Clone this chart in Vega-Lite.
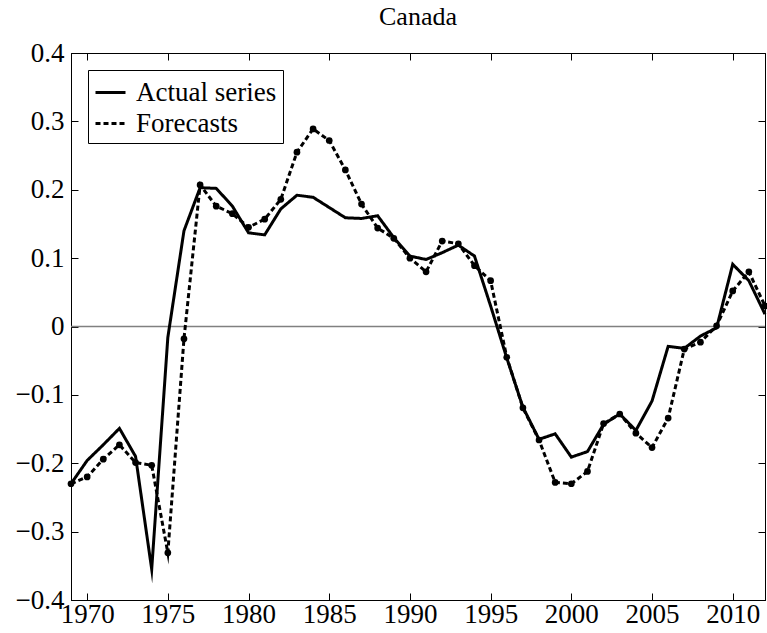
{
  "$schema": "https://vega.github.io/schema/vega-lite/v6.json",
  "width": 694,
  "height": 547,
  "autosize": "none",
  "padding": {"left": 71, "top": 53, "right": 2, "bottom": 33},
  "background": "white",
  "title": {"text": "Canada", "font": "Liberation Serif", "fontSize": 26, "fontWeight": "normal", "color": "black", "offset": 9},
  "config": {
    "view": {"stroke": "black", "strokeWidth": 1},
    "axis": {"grid": false, "domainColor": "black", "tickColor": "black", "labelColor": "black", "labelFont": "Liberation Serif", "labelFontSize": 27, "tickSize": -7, "title": null}
  },
  "datasets": {
    "main": [
      {"year": 1969, "series": "Actual series", "value": -0.23},
      {"year": 1970, "series": "Actual series", "value": -0.196},
      {"year": 1971, "series": "Actual series", "value": -0.173},
      {"year": 1972, "series": "Actual series", "value": -0.149},
      {"year": 1973, "series": "Actual series", "value": -0.19},
      {"year": 1974, "series": "Actual series", "value": -0.355},
      {"year": 1975, "series": "Actual series", "value": -0.016},
      {"year": 1976, "series": "Actual series", "value": 0.14},
      {"year": 1977, "series": "Actual series", "value": 0.203},
      {"year": 1978, "series": "Actual series", "value": 0.202},
      {"year": 1979, "series": "Actual series", "value": 0.176},
      {"year": 1980, "series": "Actual series", "value": 0.137},
      {"year": 1981, "series": "Actual series", "value": 0.134},
      {"year": 1982, "series": "Actual series", "value": 0.172},
      {"year": 1983, "series": "Actual series", "value": 0.192},
      {"year": 1984, "series": "Actual series", "value": 0.189},
      {"year": 1985, "series": "Actual series", "value": 0.174},
      {"year": 1986, "series": "Actual series", "value": 0.159},
      {"year": 1987, "series": "Actual series", "value": 0.158},
      {"year": 1988, "series": "Actual series", "value": 0.162},
      {"year": 1989, "series": "Actual series", "value": 0.13},
      {"year": 1990, "series": "Actual series", "value": 0.103},
      {"year": 1991, "series": "Actual series", "value": 0.098},
      {"year": 1992, "series": "Actual series", "value": 0.108},
      {"year": 1993, "series": "Actual series", "value": 0.119},
      {"year": 1994, "series": "Actual series", "value": 0.103},
      {"year": 1995, "series": "Actual series", "value": 0.03},
      {"year": 1996, "series": "Actual series", "value": -0.046},
      {"year": 1997, "series": "Actual series", "value": -0.118},
      {"year": 1998, "series": "Actual series", "value": -0.165},
      {"year": 1999, "series": "Actual series", "value": -0.157},
      {"year": 2000, "series": "Actual series", "value": -0.191},
      {"year": 2001, "series": "Actual series", "value": -0.183},
      {"year": 2002, "series": "Actual series", "value": -0.143},
      {"year": 2003, "series": "Actual series", "value": -0.128},
      {"year": 2004, "series": "Actual series", "value": -0.152},
      {"year": 2005, "series": "Actual series", "value": -0.109},
      {"year": 2006, "series": "Actual series", "value": -0.029},
      {"year": 2007, "series": "Actual series", "value": -0.032},
      {"year": 2008, "series": "Actual series", "value": -0.014},
      {"year": 2009, "series": "Actual series", "value": -0.002},
      {"year": 2010, "series": "Actual series", "value": 0.091},
      {"year": 2011, "series": "Actual series", "value": 0.067},
      {"year": 2012, "series": "Actual series", "value": 0.018},
      {"year": 1969, "series": "Forecasts", "value": -0.23},
      {"year": 1970, "series": "Forecasts", "value": -0.22},
      {"year": 1971, "series": "Forecasts", "value": -0.194},
      {"year": 1972, "series": "Forecasts", "value": -0.173},
      {"year": 1973, "series": "Forecasts", "value": -0.199},
      {"year": 1974, "series": "Forecasts", "value": -0.203},
      {"year": 1975, "series": "Forecasts", "value": -0.331},
      {"year": 1976, "series": "Forecasts", "value": -0.018},
      {"year": 1977, "series": "Forecasts", "value": 0.207},
      {"year": 1978, "series": "Forecasts", "value": 0.176},
      {"year": 1979, "series": "Forecasts", "value": 0.165},
      {"year": 1980, "series": "Forecasts", "value": 0.145},
      {"year": 1981, "series": "Forecasts", "value": 0.157},
      {"year": 1982, "series": "Forecasts", "value": 0.186},
      {"year": 1983, "series": "Forecasts", "value": 0.255},
      {"year": 1984, "series": "Forecasts", "value": 0.289},
      {"year": 1985, "series": "Forecasts", "value": 0.272},
      {"year": 1986, "series": "Forecasts", "value": 0.229},
      {"year": 1987, "series": "Forecasts", "value": 0.179},
      {"year": 1988, "series": "Forecasts", "value": 0.144},
      {"year": 1989, "series": "Forecasts", "value": 0.129},
      {"year": 1990, "series": "Forecasts", "value": 0.1},
      {"year": 1991, "series": "Forecasts", "value": 0.08},
      {"year": 1992, "series": "Forecasts", "value": 0.125},
      {"year": 1993, "series": "Forecasts", "value": 0.121},
      {"year": 1994, "series": "Forecasts", "value": 0.089},
      {"year": 1995, "series": "Forecasts", "value": 0.067},
      {"year": 1996, "series": "Forecasts", "value": -0.045},
      {"year": 1997, "series": "Forecasts", "value": -0.119},
      {"year": 1998, "series": "Forecasts", "value": -0.166},
      {"year": 1999, "series": "Forecasts", "value": -0.228},
      {"year": 2000, "series": "Forecasts", "value": -0.23},
      {"year": 2001, "series": "Forecasts", "value": -0.212},
      {"year": 2002, "series": "Forecasts", "value": -0.142},
      {"year": 2003, "series": "Forecasts", "value": -0.128},
      {"year": 2004, "series": "Forecasts", "value": -0.156},
      {"year": 2005, "series": "Forecasts", "value": -0.177},
      {"year": 2006, "series": "Forecasts", "value": -0.134},
      {"year": 2007, "series": "Forecasts", "value": -0.033},
      {"year": 2008, "series": "Forecasts", "value": -0.023},
      {"year": 2009, "series": "Forecasts", "value": 0.001},
      {"year": 2010, "series": "Forecasts", "value": 0.052},
      {"year": 2011, "series": "Forecasts", "value": 0.08},
      {"year": 2012, "series": "Forecasts", "value": 0.03}
    ],
    "zero": [{"z": 0}]
  },
  "data": {"name": "main"},
  "layer": [
    {
      "data": {"name": "zero"},
      "mark": {"type": "rule", "color": "#808080", "strokeWidth": 1.5},
      "encoding": {
        "y": {"field": "z", "type": "quantitative", "scale": {"domain": [-0.4, 0.4], "nice": false}, "axis": null}
      }
    },
    {
      "mark": {"type": "line", "color": "black", "strokeWidth": 3, "strokeJoin": "miter", "strokeMiterLimit": 10},
      "encoding": {
        "x": {"field": "year", "type": "quantitative", "scale": {"domain": [1969, 2012], "nice": false, "zero": false},
              "axis": {"orient": "bottom", "values": [1970, 1975, 1980, 1985, 1990, 1995, 2000, 2005, 2010], "format": "d", "labelPadding": 8, "labelFlush": false, "labelFont": "Liberation Serif", "labelFontSize": 27}},
        "y": {"field": "value", "type": "quantitative", "scale": {"domain": [-0.4, 0.4], "nice": false},
              "axis": {"orient": "left", "values": [-0.4, -0.3, -0.2, -0.1, 0, 0.1, 0.2, 0.3, 0.4], "labelPadding": 14, "labelFlush": false, "labelFont": "Liberation Serif", "labelFontSize": 27,
                       "labelExpr": "datum.value == 0 ? '0' : replace(format(datum.value, '.1f'), '-', '\u2212')"}},
        "strokeDash": {"field": "series", "type": "nominal",
                       "scale": {"domain": ["Actual series", "Forecasts"], "range": [[1, 0], [5, 3]]},
                       "legend": {"title": null, "orient": "top-left", "offset": 17, "strokeColor": "black", "fillColor": "white", "padding": 6,
                                  "labelFont": "Liberation Serif", "labelFontSize": 27, "labelColor": "black", "symbolType": "stroke",
                                  "symbolStrokeWidth": 3, "symbolStrokeColor": "black", "symbolSize": 900, "rowPadding": 1, "labelOffset": 9, "cornerRadius": 0}}
      }
    },
    {
      "transform": [{"filter": "datum.series == 'Forecasts'"}],
      "mark": {"type": "circle", "color": "black", "size": 45, "opacity": 1},
      "encoding": {
        "x": {"field": "year", "type": "quantitative", "axis": {"orient": "top", "values": [1970, 1975, 1980, 1985, 1990, 1995, 2000, 2005, 2010], "labels": false}},
        "y": {"field": "value", "type": "quantitative", "axis": {"orient": "right", "values": [-0.4, -0.3, -0.2, -0.1, 0, 0.1, 0.2, 0.3, 0.4], "labels": false}}
      }
    }
  ],
  "resolve": {"axis": {"x": "independent", "y": "independent"}}
}
